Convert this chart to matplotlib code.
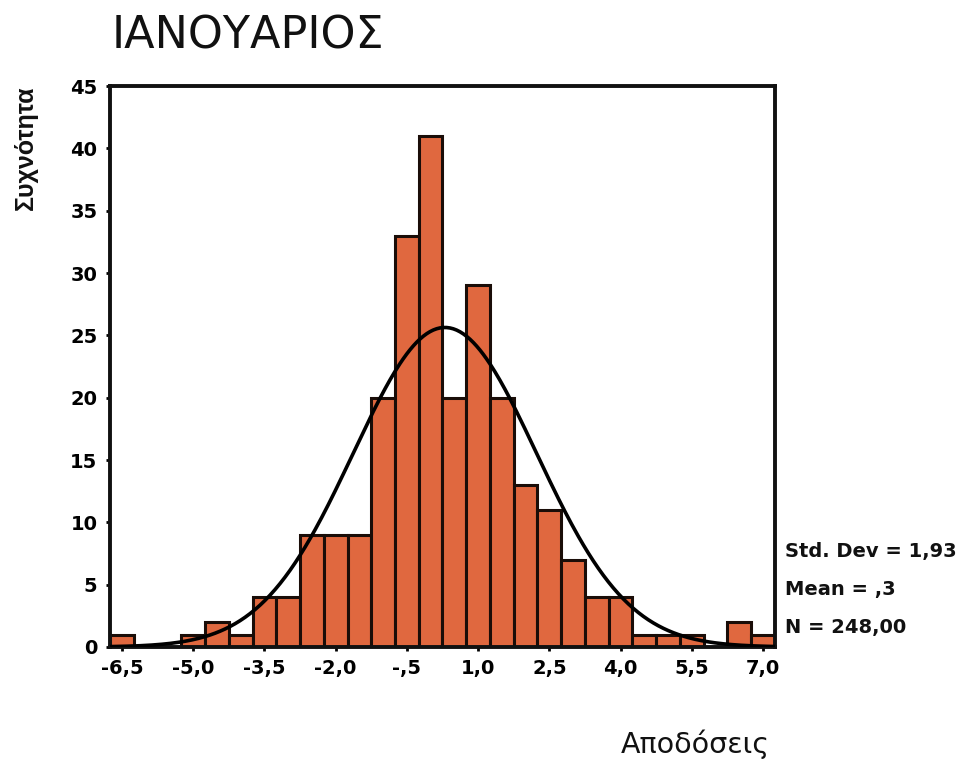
import numpy as np
import matplotlib.pyplot as plt

# January returns histogram, bins of width 0.5
bin_centers = [-6.5, -6.0, -5.5, -5.0, -4.5, -4.0, -3.5, -3.0, -2.5, -2.0,
               -1.5, -1.0, -0.5, 0.0, 0.5, 1.0, 1.5, 2.0, 2.5, 3.0,
               3.5, 4.0, 4.5, 5.0, 5.5, 6.0, 6.5, 7.0]
counts = [1, 0, 0, 1, 2, 1, 4, 4, 9, 9,
          9, 20, 33, 41, 20, 29, 20, 13, 11, 7,
          4, 4, 1, 1, 1, 0, 2, 1]
std_dev = 1.93
mean = 0.3
n_obs = 248
bin_width = 0.5

x_ticks = [-6.5, -5.0, -3.5, -2.0, -0.5, 1.0, 2.5, 4.0, 5.5, 7.0]
x_ticklabels = ['-6,5', '-5,0', '-3,5', '-2,0', '-,5', '1,0', '2,5', '4,0', '5,5', '7,0']
y_ticks = [0, 5, 10, 15, 20, 25, 30, 35, 40, 45]

plt.rcParams['font.family'] = ['DejaVu Sans']

fig = plt.figure(figsize=(9.67, 7.6), dpi=100)
ax = fig.add_axes([0.1138, 0.1487, 0.6876, 0.7381])

ax.bar(bin_centers, counts, width=bin_width, color='#E0683F',
       edgecolor='#1a0d08', linewidth=2.2, zorder=2)

# fitted normal curve scaled to counts
xs = np.linspace(-6.75, 7.25, 400)
pdf = np.exp(-0.5 * ((xs - mean) / std_dev) ** 2) / (std_dev * np.sqrt(2 * np.pi))
ax.plot(xs, n_obs * bin_width * pdf, color='black', linewidth=2.6, zorder=3)

ax.set_xlim(-6.75, 7.25)
ax.set_ylim(0, 45)
ax.set_xticks(x_ticks)
ax.set_xticklabels(x_ticklabels, fontsize=14, fontweight='bold')
ax.set_yticks(y_ticks)
ax.set_yticklabels([str(t) for t in y_ticks], fontsize=14, fontweight='bold')
ax.tick_params(axis='both', direction='out', length=3, width=2, pad=6)

for side in ['left', 'right', 'top', 'bottom']:
    ax.spines[side].set_linewidth(2.8)
    ax.spines[side].set_color('#111111')

fig.text(112 / 967, 1 - 36 / 760, 'ΙΑΝΟΥΑΡΙΟΣ', fontsize=32,
         ha='left', va='center', color='#111111')
fig.text(26 / 967, 1 - 148 / 760, 'Συχνότητα', fontsize=18, fontweight='bold',
         family='Liberation Sans', rotation=90, ha='center', va='center',
         color='#111111')
fig.text(695 / 967, 1 - 744 / 760, 'Αποδόσεις', fontsize=20.5,
         ha='center', va='center', color='#111111')

stats = [('Std. Dev = 1,93', 552), ('Mean = ,3', 590), ('N = 248,00', 627)]
for label, ypix in stats:
    fig.text(785 / 967, 1 - ypix / 760, label, fontsize=14, fontweight='bold',
             ha='left', va='center', color='#111111')

fig.savefig('out.png', dpi=100)
